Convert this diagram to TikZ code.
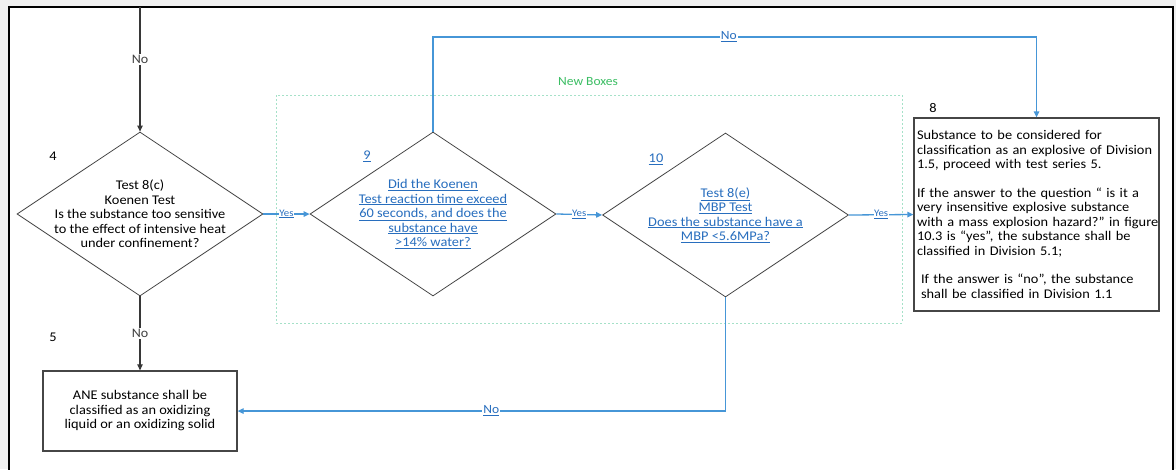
\documentclass[tikz,border=0pt]{standalone}
\usepackage{fontspec}
\setmainfont{Carlito}[FakeStretch=1.08]
\usetikzlibrary{shapes.geometric,arrows.meta}

\newcommand{\lnk}[1]{\underline{#1}}

\begin{document}
\frenchspacing
\begin{tikzpicture}[x=1pt, y=-1pt, font=\fontsize{13.3}{14.5}\selectfont,
    decision/.style={diamond, draw=shapegray, line width=0.8pt, minimum width=246pt, minimum height=164pt, inner sep=0pt},
    endbox/.style={rectangle, draw=shapegray, line width=1.3pt, inner sep=3pt},
    flow/.style={draw=arrowgray, line width=1.2pt, -{Triangle[length=6pt,width=5.5pt]}},
    blueflow/.style={draw=lineblue, line width=1.3pt, -{Triangle[length=6pt,width=5.5pt]}},
    nolabel/.style={fill=white, inner sep=1pt, text=black!75, font=\fontsize{13}{14}\selectfont},
    bluenolabel/.style={fill=white, inner sep=1pt, text=linkblue, font=\fontsize{12.5}{14}\selectfont},
    yeslabel/.style={fill=white, inner sep=0.5pt, text=linkblue, font=\fontsize{10}{11}\selectfont}]
    % Colours
    \definecolor{framegray}{RGB}{240,240,240}
    \definecolor{shapegray}{RGB}{70,70,70}
    \definecolor{arrowgray}{RGB}{55,55,55}
    \definecolor{lineblue}{RGB}{70,150,215}
    \definecolor{linkblue}{RGB}{40,110,190}
    \definecolor{newgreen}{RGB}{60,190,100}
    \definecolor{dashgreen}{RGB}{165,225,200}

    % Window frame
    \useasboundingbox (0,0) rectangle (1176,469);
    \clip (0,0) rectangle (1176,469);
    \fill[framegray] (0,0) rectangle (1176,469);
    \fill[white] (9,7) rectangle (1173,469);
    \draw[black, line width=1.8pt] (9,470) -- (9,7) -- (1173,7) -- (1173,470);

    % New boxes region
    \draw[dashgreen, line width=0.6pt, dash pattern=on 2pt off 2pt] (276,95) rectangle (902,323);
    \node[text=newgreen, font=\fontsize{12.5}{14}\selectfont] (newlbl) at (588,82) {New Boxes};

    % Decisions
    \node[decision] (d4) at (140,214) {};
    \node[align=center] (d4text) at (d4) {Test 8(c)\\Koenen Test\\Is the substance too sensitive\\to the effect of intensive heat\\under confinement?};
    \node (n4) at (53,156) {4};

    \node[decision] (d9) at (433,214) {};
    \node[align=center, text=linkblue] (d9text) at (d9) {\lnk{Did the Koenen}\\\lnk{Test reaction time exceed}\\\lnk{60 seconds, and does the}\\\lnk{substance have}\\\lnk{>14\% water?}};
    \node[text=linkblue] (n9) at (367,156) {\lnk{9}};

    \node[decision] (d10) at (725.5,215) {};
    \node[align=center, text=linkblue] (d10text) at (d10) {\lnk{Test 8(e)}\\\lnk{MBP Test}\\\lnk{Does the substance have a}\\\lnk{MBP <5.6MPa?}};
    \node[text=linkblue] (n10) at (656,159) {\lnk{10}};

    % Outcome boxes
    \node[endbox, minimum width=194pt, minimum height=80pt, align=center] (b5) at (140,411)
        {ANE substance shall be\\classified as an oxidizing\\liquid or an oxidizing solid};
    \node (n5) at (53,337) {5};

    \node[endbox, minimum width=245pt, minimum height=193pt, text width=239pt, align=left] (b8) at (1036.5,214.5)
        {Substance to be considered for\\classification as an explosive of Division\\1.5, proceed with test series 5.\\[14pt]
         If the answer to the question `` is it a\\very insensitive explosive substance\\\mbox{with a mass explosion hazard?'' in figure}\\10.3 is ``yes'', the substance shall be\\classified in Division 5.1;\\[14pt]
         \hspace*{4pt}If the answer is ``no'', the substance\\\hspace*{4pt}shall be classified in Division 1.1};
    \node (n8) at (933,108) {8};

    % Connectors
    \coordinate (entry) at (140,7);
    \coordinate (noline) at (0,37);
    \draw[flow] (entry) -- node[nolabel, pos=0.42] {No} (d4.north);
    \draw[flow] (d4.south) -- node[nolabel] {No} (b5.north);
    \draw[blueflow] (d4.east) -- node[yeslabel] {\lnk{Yes}} (d9.west);
    \draw[blueflow] (d9.east) -- node[yeslabel] {\lnk{Yes}} (d10.west);
    \draw[blueflow] (d10.east) -- node[yeslabel] {\lnk{Yes}} (b8.west);
    \draw[blueflow] (d9.north) -- (d9.north |- noline) -- node[bluenolabel, pos=0.49] {\lnk{No}} (b8.north |- noline) -- (b8.north);
    \draw[blueflow] (d10.south) |- node[bluenolabel, pos=0.74] {\lnk{No}} (b5.east);

\end{tikzpicture}
\end{document}
